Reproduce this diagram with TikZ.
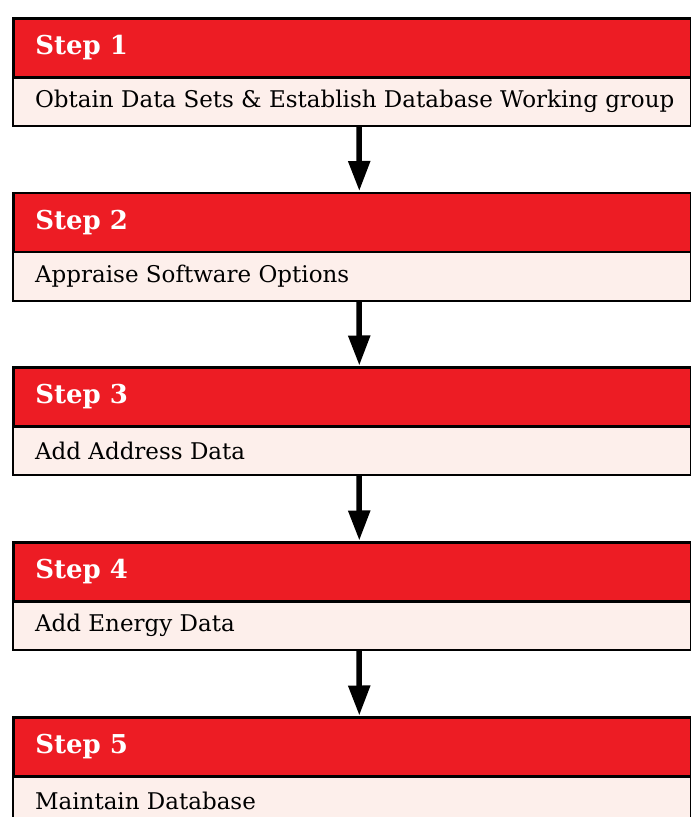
\documentclass[tikz,border=0pt]{standalone}
\usepackage{fontspec}
\setmainfont{DejaVu Serif}
\usetikzlibrary{arrows.meta}
\definecolor{stepred}{HTML}{ED1C24}
\definecolor{steppale}{HTML}{FDEFEB}
\newcommand{\steptext}[1]{\makebox[634pt][l]{#1}}
\begin{document}
\begin{tikzpicture}[x=1pt,y=-1pt,
  headbox/.style={draw=black, line width=2.6pt, fill=stepred, anchor=north west,
    minimum width=678, minimum height=59, inner xsep=22, inner ysep=0pt,
    text=white, font=\bfseries\fontsize{26}{30}\selectfont},
  bodybox/.style={draw=black, line width=2.2pt, fill=steppale, anchor=north west,
    minimum width=678, minimum height=49, inner xsep=22, inner ysep=0pt,
    text=black, font=\fontsize{23}{27}\selectfont},
  flowarrow/.style={draw=black, line width=5.5pt, -{Triangle[length=30pt, width=21pt]}, shorten >=0.5pt}
]
\useasboundingbox (0,0) rectangle (691,817);
\clip (0,0) rectangle (691,817);
\fill[white] (0,0) rectangle (691,817);

\node[bodybox] (b1) at (12,76) {\steptext{Obtain Data Sets \& Establish Database Working group}};
\node[headbox] (h1) at (12,17) {\steptext{Step 1}};
\node[bodybox] (b2) at (12,250.5) {\steptext{Appraise Software Options}};
\node[headbox] (h2) at (12,191.5) {\steptext{Step 2}};
\node[bodybox] (b3) at (12,425) {\steptext{Add Address Data}};
\node[headbox] (h3) at (12,366) {\steptext{Step 3}};
\node[bodybox] (b4) at (12,600) {\steptext{Add Energy Data}};
\node[headbox] (h4) at (12,541) {\steptext{Step 4}};
\node[bodybox] (b5) at (12,775) {\steptext{Maintain Database}};
\node[headbox] (h5) at (12,716) {\steptext{Step 5}};

\draw[flowarrow] ([xshift=7pt]b1.south) -- ([xshift=7pt]h2.north);
\draw[flowarrow] ([xshift=7pt]b2.south) -- ([xshift=7pt]h3.north);
\draw[flowarrow] ([xshift=7pt]b3.south) -- ([xshift=7pt]h4.north);
\draw[flowarrow] ([xshift=7pt]b4.south) -- ([xshift=7pt]h5.north);
\end{tikzpicture}
\end{document}
